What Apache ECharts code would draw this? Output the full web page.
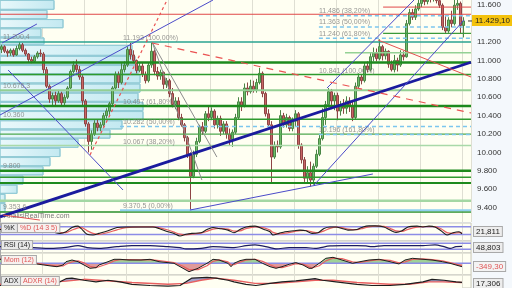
<!DOCTYPE html>
<html><head><meta charset="utf-8">
<script src="https://cdn.jsdelivr.net/npm/echarts@6/dist/echarts.min.js"></script>
<style>html,body{margin:0;padding:0;background:#f4f8fc;}#c{width:512px;height:288px;}</style>
</head><body><div id="c"></div><script>
// ---------- DATA ----------
// candles: [open, close, low, high]
const ohlc = [
[11120,11150,11080,11170],[11150,11100,11080,11165],[11100,11080,11040,11120],[11080,11110,11050,11130],
[11110,11060,11040,11130],[11060,11130,11050,11160],[11130,11170,11110,11200],[11170,11110,11090,11190],
[11110,11070,11050,11130],[11070,11010,10980,11080],[11010,10990,10970,11040],[10990,11040,10980,11060],
[11040,11080,11020,11100],[11080,11070,11040,11120],[11070,10900,10860,11090],[10900,10720,10700,10930],
[10720,10580,10540,10740],[10580,10620,10500,10650],[10620,10560,10510,10660],[10560,10640,10540,10680],
[10640,10540,10500,10660],[10540,10600,10500,10630],[10600,10700,10580,10720],[10700,10880,10690,10900],
[10880,10950,10860,10990],[10950,10900,10870,11010],[10900,10820,10790,10940],[10820,10560,10500,10840],
[10560,10310,10280,10580],[10310,10120,10000,10330],[10120,10200,10030,10240],[10200,10320,10180,10350],
[10320,10270,10230,10360],[10270,10300,10230,10330],[10300,10400,10280,10430],[10400,10450,10370,10480],
[10450,10530,10410,10550],[10530,10700,10500,10720],[10700,10850,10680,10880],[10850,10760,10700,10880],
[10760,10900,10740,10970],[10900,10950,10870,10990],[10950,11120,10930,11150],[11120,11060,11010,11190],
[11060,11000,10970,11110],[11000,10890,10860,11010],[10890,10940,10870,10970],[10940,10850,10820,10970],
[10850,10780,10750,10880],[10780,10950,10760,10980],[10950,11100,10920,11193],[11100,10880,10840,11120],
[10880,10830,10790,10930],[10830,10870,10790,10900],[10870,10740,10690,10880],[10740,10780,10700,10810],
[10780,10640,10600,10800],[10640,10520,10490,10700],[10520,10560,10470,10600],[10560,10380,10350,10600],
[10380,10300,10280,10420],[10300,10160,10120,10320],[10160,9980,9940,10180],[9980,9740,9370,10000],
[9740,9980,9720,10020],[9980,10120,9950,10160],[10120,10280,10100,10300],[10280,10230,10190,10330],
[10230,10420,10210,10450],[10420,10380,10340,10500],[10380,10450,10350,10490],[10450,10300,10260,10470],
[10300,10370,10260,10400],[10370,10230,10180,10400],[10230,10310,10200,10340],[10310,10200,10150,10340],
[10200,10140,10080,10260],[10140,10220,10060,10250],[10220,10380,10200,10420],[10380,10550,10360,10600],
[10550,10500,10450,10600],[10500,10700,10490,10750],[10700,10660,10620,10760],[10660,10720,10640,10790],
[10720,10680,10650,10780],[10680,10760,10650,10800],[10760,10860,10740,10920],[10860,10640,10600,10880],
[10640,10420,10390,10660],[10420,10300,10270,10470],[10300,9950,9670,10340],[9950,10080,9930,10120],
[10080,10060,10000,10130],[10060,10400,10040,10460],[10400,10300,10270,10430],[10300,10380,10270,10420],
[10380,10260,10230,10400],[10260,10340,10230,10380],[10340,10420,10280,10460],[10420,10080,10040,10440],
[10080,9920,9880,10100],[9920,9720,9680,9950],[9720,9780,9660,9850],[9780,9700,9630,9900],
[9700,9850,9650,9880],[9850,9980,9830,10030],[9980,10150,9960,10200],[10150,10380,10130,10480],
[10380,10520,10300,10560],[10520,10660,10490,10700],[10660,10560,10470,10690],[10560,10620,10460,10650],
[10620,10450,10350,10650],[10450,10520,10400,10560],[10520,10480,10420,10580],[10480,10560,10420,10610],
[10560,10500,10440,10600],[10500,10380,10340,10560],[10380,10720,10360,10760],[10720,10820,10690,10860],
[10820,10780,10740,10850],[10780,10940,10760,10980],[10940,10900,10870,10990],[10900,11040,10880,11080],
[11040,11080,10990,11140],[11080,11020,10990,11130],[11020,11150,11000,11230],[11150,11050,11000,11170],
[11050,11100,11010,11130],[11100,10960,10920,11110],[10960,10900,10880,11000],[10900,11000,10870,11060],
[11000,10950,10880,11030],[10950,11060,10930,11110],[11060,11040,11000,11100],[11040,11400,11030,11440],
[11400,11520,11380,11560],[11520,11470,11440,11560],[11470,11560,11440,11600],[11560,11620,11540,11680],
[11620,11660,11580,11700],[11660,11640,11600,11720],[11640,11700,11610,11740],[11700,11680,11630,11750],
[11680,11720,11640,11760],[11720,11650,11620,11750],[11650,11600,11570,11690],[11600,11360,11330,11620],
[11360,11320,11290,11480],[11320,11440,11300,11470],[11440,11400,11360,11540],[11400,11600,11380,11680],
[11600,11620,11550,11700],[11620,11380,11290,11640],[11380,11429.1,11250,11470]
];
const slotCount = 157;           // trading-day slots on the x axis
const lastPrice = 11429.10;

// volume-by-price profile: [priceLow, priceHigh, volume]
const volProfile = [
[11550,11657,54],[11450,11550,47],[11350,11450,63],[11250,11350,41],[11170,11250,44],
[11050,11170,132],[10950,11050,135],[10850,10950,138],[10750,10850,140],[10650,10750,140],
[10550,10650,138],[10450,10550,143],[10350,10450,143],[10250,10350,122],[10150,10250,110],
[10050,10150,78],[9950,10050,60],[9850,9950,50],[9750,9850,43],[9650,9750,23],
[9550,9650,17],[9450,9550,5],[9350,9450,5]
];

// horizontal support / resistance levels: price, first slot
const levelPrices = [11580, 11502, 11294, 11200.4, 11084, 10978, 10847, 10676.3, 10505, 10360, 10200, 10076, 9800, 9730, 9668, 9475, 9353.6];
const levelStarts = [127.7, 0, 127.7, 0, 115, 0, 0, 0, 0, 0, 0, 0, 0, 0, 0, 0, 0];

// fibonacci retracement levels (dashed)
const fibPrices = [11486, 11363, 11240, 10282, 10196, 9370.5];
const fibStarts = [106.3, 106.3, 106.3, 40, 106.3, 40];

// trend lines: [[slot, price], [slot, price]]
const trendLines = [
  [[0, 9300], [157, 10980]],
  [[0, 10407], [71, 11657]],
  [[0.7, 11190], [12.3, 11396]],
  [[2.7, 10896], [41, 9592]],
  [[109, 10700], [138, 11657]],
  [[104.7, 9646], [154.7, 11440]],
  [[63.3, 9374], [124.3, 9766]],
  [[50.7, 11200], [67.3, 9700]],
  [[50.7, 11200], [72.3, 9950]],
  [[50.7, 11190], [157, 10429]],
  [[30, 9972], [55.7, 11657]],
  [[126, 11222], [157, 10820]],
  [[1, 9320], [13.3, 9265]]
];

// labels on the price panel: [slot, price, text]
const fibLabels = [
  [41, 11193, '11.193 (100,00%)'], [41, 10497, '10.497 (61,80%)'], [41, 10282, '10.282 (50,00%)'],
  [41, 10067, '10.067 (38,20%)'], [41, 9370.5, '9.370,5 (0,00%)'],
  [106.3, 11486, '11.486 (38,20%)'], [106.3, 11363, '11.363 (50,00%)'], [106.3, 11240, '11.240 (61,80%)'],
  [106.3, 10841, '10.841 (100,00%)'], [106.3, 10196, '10.196 (161,80%)']
];
const levelLabels = [
  [1, 11200.4, '11.200,4'], [1, 10676.3, '10.676,3'], [1, 10360, '10.360'], [1, 9800, '9.800'], [1, 9353.6, '9.353,6']
];
const priceTicks = [9400, 9600, 9800, 10000, 10200, 10400, 10600, 10800, 11000, 11200, 11600];

// indicators: [slot, value]
const stochK = [[0,59],[3,59],[7,54],[11,54],[17,41],[20,28],[22,41],[24,74],[26,85],[27,67],[29,21],[31,15],[33,28],[36,49],[39,74],[42,79],[47,79],[51,79],[53,67],[56,41],[58,28],[60,8],[62,21],[64,28],[67,33],[69,59],[71,74],[73,67],[76,54],[78,33],[80,59],[82,79],[85,85],[88,59],[90,41],[91,15],[93,28],[95,41],[98,49],[100,54],[102,49],[104,28],[106,33],[108,67],[110,79],[112,79],[114,67],[116,54],[119,59],[121,79],[123,87],[125,87],[128,79],[130,54],[132,36],[134,49],[136,79],[139,85],[141,79],[143,85],[145,79],[147,49],[149,15],[151,33],[153,41],[154,24]];
const stochD = [[0,62],[3,60],[7,56],[11,54],[17,46],[20,34],[22,34],[24,55],[26,72],[27,76],[29,50],[31,28],[33,20],[36,35],[39,56],[42,74],[47,80],[51,79],[53,74],[56,55],[58,38],[60,22],[62,16],[64,22],[67,30],[69,44],[71,62],[73,68],[76,62],[78,46],[80,48],[82,66],[85,80],[88,72],[90,54],[91,36],[93,24],[95,30],[98,42],[100,50],[102,51],[104,40],[106,33],[108,48],[110,68],[112,78],[114,74],[116,62],[119,58],[121,68],[123,80],[125,86],[128,84],[130,68],[132,48],[134,44],[136,60],[139,78],[141,82],[143,82],[145,82],[147,64],[149,34],[151,28],[153,34],[154,32]];
const rsi = [[0,47],[5.6,47],[11,41],[17,36],[22,43],[26,54],[29,41],[33,36],[39,47],[44,54],[50,54],[56,47],[60,41],[62,32],[67,36],[71,47],[78,41],[82,54],[85,59],[90,41],[92,32],[96.4,41],[102,41],[105,36],[110,52],[114,54],[119,54],[122,52],[124,47],[128,54],[132,54],[136.4,54],[141,54],[145,59],[148,47],[150,36],[152,47],[154,49]];
const mom = [[0,412],[3,340],[7,165],[10,0],[13,-103],[17,-278],[19,-350],[21,-175],[22,165],[24,340],[26,165],[28,-175],[30,-515],[32,-450],[33,-175],[36,165],[38,412],[40,412],[43,340],[47,340],[50,412],[53,165],[58,0],[61,-515],[63,-865],[66,-515],[69,0],[71,412],[73,340],[76,0],[77,-350],[78,0],[80,275],[82,412],[85,412],[87.5,0],[90,-350],[92,-515],[94,-350],[96.4,-103],[98.6,70],[101,-175],[103,-515],[104,-515],[106.4,0],[108.6,515],[111,618],[114,340],[117.5,0],[120,165],[123,340],[126.4,412],[130,165],[133,-70],[135,340],[137.5,515],[141,412],[144,340],[147.5,165],[150,0],[152,-175],[154,-349]];
const momSignal = [[0,450],[3,400],[7,250],[10,80],[13,-40],[17,-200],[19,-300],[21,-280],[22,-100],[24,150],[26,250],[28,50],[30,-300],[32,-450],[33,-350],[36,-50],[38,250],[40,380],[43,380],[47,350],[50,380],[53,280],[58,80],[61,-300],[63,-650],[66,-650],[69,-250],[71,200],[73,350],[76,150],[77,-150],[78,-150],[80,120],[82,330],[85,420],[87.5,200],[90,-150],[92,-400],[94,-450],[96.4,-250],[98.6,-30],[101,-80],[103,-350],[104,-480],[106.4,-250],[108.6,250],[111,520],[114,480],[117.5,150],[120,80],[123,250],[126.4,380],[130,300],[133,50],[135,150],[137.5,400],[141,450],[144,380],[147.5,250],[150,80],[152,-80],[154,-250]];
const adx = [[0,7.7],[5.6,11.4],[11,14.3],[17,7.7],[20,19],[22,28.6],[24,30.5],[28,23.8],[32,19],[36,23.8],[40,19],[44,11.4],[50,7.7],[56,5.7],[60,7.7],[62,19],[64,30.5],[69,32.4],[72,30.5],[76,23.8],[78,19],[82,11.4],[85.3,7.7],[90,14.3],[94,19],[98.6,21.9],[103,26.7],[105,28.6],[107.5,23.8],[112,19],[119,11.4],[124,7.7],[130,7.7],[135,11.4],[141,19],[144,26.7],[148,23.8],[152,19],[154,17.3]];
const adxr = [[0,11.4],[11,14.3],[22,21],[28,26.7],[33,23.8],[44,17.1],[56,11.4],[62,14.3],[67,23.8],[72,30.5],[78,23.8],[85,14.3],[92,14.3],[98.6,19],[105,23.8],[111,23.8],[119,17.1],[130,11.4],[136.4,11.4],[143,19],[147.5,19],[154,17.1]];
const stochLevels = [80, 20];
const rsiLevels = [70, 30];
const lastValues = ['21,811', '48,803', '-349,30', '17,306'];

// ---------- CHART ----------
const chart = echarts.init(document.getElementById('c'));
const BG = '#fffff2';
const PW = 471;
const NARROW = '"Liberation Sans Narrow", "Liberation Sans", Arial, sans-serif';
const SANS = '"Liberation Sans", Arial, sans-serif';
const fmt = v => { const s = String(Math.round(v)); return s.slice(0, s.length - 3) + '.' + s.slice(-3); };

const gridBoxes = [[0, 222], [223, 18], [241, 12], [253, 22], [275, 14]];
const grids = gridBoxes.map((g, i) => ({left: 0, top: g[0], width: PW, height: g[1], show: true,
  backgroundColor: BG, borderColor: i ? '#c9c9c0' : 'transparent', borderWidth: i ? 1 : 0}));

const slotAxis = gi => ({type: 'value', gridIndex: gi, min: 0, max: slotCount, interval: 14,
  axisLine: {show: false}, axisTick: {show: false}, axisLabel: {show: false},
  splitLine: {show: true, lineStyle: {color: '#dfdfd3', width: 1}}});

const xAxes = [
  {type: 'category', gridIndex: 0, data: Array.from({length: slotCount}, (_, i) => String(i)), boundaryGap: true, show: false},
  slotAxis(0),
  {type: 'value', gridIndex: 0, min: 0, max: PW, show: false},
  slotAxis(1), slotAxis(2), slotAxis(3), slotAxis(4)
];
const sideAxis = (gi, min, max) => ({type: 'value', gridIndex: gi, position: 'right', min, max,
  axisLine: {show: true, lineStyle: {color: '#a8a8a8'}}, axisTick: {show: false}, axisLabel: {show: false}, splitLine: {show: false}});
const yAxes = [
  {type: 'value', gridIndex: 0, position: 'right', min: 9244, max: 11657,
   axisLine: {show: true, lineStyle: {color: '#a8a8a8'}},
   axisTick: {show: true, length: 3, customValues: priceTicks, lineStyle: {color: '#888'}},
   axisLabel: {show: true, customValues: priceTicks, margin: 6, formatter: fmt, color: '#333', fontSize: 8, fontFamily: NARROW},
   splitLine: {show: false}},
  sideAxis(1, -32, 110), sideAxis(2, 5, 85), sideAxis(3, -1205, 1061), sideAxis(4, 0, 40)
];

const series = [];
// volume profile
const vpFill = new echarts.graphic.LinearGradient(0, 0, 1, 0, [{offset: 0, color: '#e9f8fb'}, {offset: 1, color: '#c3e9f1'}]);
series.push({type: 'custom', xAxisIndex: 2, yAxisIndex: 0, data: volProfile, silent: true, z: 1,
  encode: {x: 2, y: [0, 1]},
  renderItem: (params, api) => {
    const a = api.coord([0, api.value(1)]);
    const b = api.coord([api.value(2), api.value(0)]);
    return {type: 'rect', shape: {x: a[0], y: a[1] + 0.5, width: b[0] - a[0], height: b[1] - a[1] - 1},
      style: {fill: vpFill, stroke: '#93cbd6', lineWidth: 1}};
  }});
// candles
series.push({type: 'candlestick', xAxisIndex: 0, yAxisIndex: 0, data: ohlc, barWidth: 2.4, z: 3, clip: true,
  itemStyle: {color: '#6fbe6a', color0: '#c96565', borderColor: '#4a8646', borderColor0: '#8e4444', borderWidth: 1}});

// level lines
const levelStyle = [
  ['#e04848', 1], ['#e04848', 1], ['#3a9a3a', 1.2], ['#2aa390', 1.6], ['#94d194', 1.5],
  ['#1d8a1d', 2.5], ['#2e9a2e', 1.5], ['#93cf93', 1.8], ['#1d8a1d', 2.5], ['#2f9a2f', 1.5],
  ['#4ea84e', 1.2], ['#a9d9a9', 1.6], ['#1d8a1d', 2.5], ['#2f9a2f', 1.5], ['#1d8a1d', 2.2],
  ['#a3d7a3', 2.5], ['#2a8f2a', 1.5]
];
levelPrices.forEach((p, i) => series.push({type: 'line', xAxisIndex: 1, yAxisIndex: 0, z: 4, silent: true,
  data: [[levelStarts[i], p], [slotCount, p]], symbol: 'none',
  lineStyle: {color: levelStyle[i][0], width: levelStyle[i][1]}}));
fibPrices.forEach((p, i) => series.push({type: 'line', xAxisIndex: 1, yAxisIndex: 0, z: 4, silent: true,
  data: [[fibStarts[i], p], [slotCount, p]], symbol: 'none',
  lineStyle: i === 5 ? {color: '#8fd0f0', width: 2} : {color: '#7cc6ee', width: 1.5, type: [4, 3]}}));
// trend lines
const trendStyle = [
  {color: '#1b1b9e', width: 2.8}, {color: '#4b4bc9', width: 1}, {color: '#4b4bc9', width: 1}, {color: '#4b4bc9', width: 1},
  {color: '#4b4bc9', width: 1}, {color: '#4b4bc9', width: 1}, {color: '#4b4bc9', width: 1},
  {color: '#8c8c8c', width: 1}, {color: '#8c8c8c', width: 1},
  {color: '#ea5252', width: 1.2, type: [7, 6]}, {color: '#ea5252', width: 1.2, type: [3, 3]},
  {color: '#e45050', width: 1}, {color: '#e45050', width: 1}
];
trendLines.forEach((seg, i) => series.push({type: 'line', xAxisIndex: 1, yAxisIndex: 0, z: 5, silent: true,
  data: seg, symbol: 'none', lineStyle: trendStyle[i]}));
// labels
const labelSeries = (data) => ({type: 'scatter', xAxisIndex: 1, yAxisIndex: 0, z: 6, silent: true, symbolSize: 0, data,
  label: {show: true, position: 'top', distance: 1, align: 'left', formatter: p => p.data[2],
    color: '#7c7c7c', fontSize: 7, fontFamily: NARROW}});
series.push(labelSeries(fibLabels));
series.push(labelSeries(levelLabels));

// filled area between a series and the zero line, drawn through the axes
const areaFill = (xi, yi, points, color) => ({type: 'custom', xAxisIndex: xi, yAxisIndex: yi, silent: true, z: 2,
  data: [[points[0][0], 0]],
  renderItem: (params, api) => {
    const pts = points.map(p => api.coord(p));
    pts.unshift(api.coord([points[0][0], 0]));
    pts.push(api.coord([points[points.length - 1][0], 0]));
    return {type: 'polygon', shape: {points: pts}, style: {fill: color}};
  }});

// stochastic
const refLine = (xi, yi, v) => ({type: 'line', xAxisIndex: xi, yAxisIndex: yi, silent: true, symbol: 'none', z: 3,
  data: [[0, v], [slotCount, v]], lineStyle: {color: '#8c8ce6', width: 1.5}});
stochLevels.forEach(v => series.push(refLine(3, 1, v)));
series.push({type: 'line', xAxisIndex: 3, yAxisIndex: 1, data: stochD, symbol: 'none', smooth: 0.3, z: 4, lineStyle: {color: '#e86060', width: 1.2}});
series.push({type: 'line', xAxisIndex: 3, yAxisIndex: 1, data: stochK, symbol: 'none', smooth: 0.3, z: 4, lineStyle: {color: '#1e1e1e', width: 1.1}});
// RSI
rsiLevels.forEach(v => series.push(refLine(4, 2, v)));
series.push({type: 'line', xAxisIndex: 4, yAxisIndex: 2, data: rsi, symbol: 'none', smooth: 0.3, z: 4, lineStyle: {color: '#1a1a60', width: 1.2}});
// Momentum: the area above zero is shaded green, the area below zero red
const momAbove = mom.map(d => [d[0], Math.max(d[1], 0)]);
const momBelow = mom.map(d => [d[0], Math.min(d[1], 0)]);
series.push(areaFill(5, 3, momAbove, '#9fd197'));
series.push(areaFill(5, 3, momBelow, '#e09a9a'));
series.push(refLine(5, 3, 0));
series.push({type: 'line', xAxisIndex: 5, yAxisIndex: 3, data: momSignal, symbol: 'none', z: 4, lineStyle: {color: '#e86060', width: 1.2}});
series.push({type: 'line', xAxisIndex: 5, yAxisIndex: 3, data: mom, symbol: 'none', z: 4, lineStyle: {color: '#1e1e1e', width: 1}});
// ADX: shaded where ADX is above ADXR
series.push(areaFill(6, 4, adx, '#a3a3cc'));
series.push(areaFill(6, 4, adxr, BG));
series.push({type: 'line', xAxisIndex: 6, yAxisIndex: 4, data: adxr, symbol: 'none', z: 4, lineStyle: {color: '#e86060', width: 1.4}});
series.push({type: 'line', xAxisIndex: 6, yAxisIndex: 4, data: adx, symbol: 'none', z: 4, lineStyle: {color: '#1e1e1e', width: 1.2}});

const box = (x, y, text, color, bg, size) => ({type: 'text', x, y, z: 50, silent: true,
  style: {text, fill: color, font: (size || 8) + 'px ' + SANS, backgroundColor: bg, borderColor: '#a9a9a9', borderWidth: 1, padding: [1, 2, 0, 2]}});

chart.setOption({
  animation: false,
  backgroundColor: '#f4f8fc',
  grid: grids, xAxis: xAxes, yAxis: yAxes, series
});

// y pixel of the last close
const yLast = chart.convertToPixel({yAxisIndex: 0}, lastPrice);
const lastLabel = lastPrice.toFixed(2).replace('.', ',');
const lastText = fmt(Math.floor(lastPrice)) + lastLabel.slice(lastLabel.indexOf(','));
chart.setOption({graphic: [
  {type: 'text', x: 4, y: 213, silent: true, style: {text: 'AnalisiRealTime.com', fill: '#7a7a7a', font: '7px ' + SANS}},
  box(2, 224, '%K', '#222', '#e9e9e9', 7), box(18, 224, '%D (14 3 5)', '#e05555', '#f7f1ee', 7),
  box(2, 241, 'RSI (14)', '#222', '#e9e9e9', 7),
  box(2, 256, 'Mom (12)', '#e05555', '#f7f1ee', 7),
  box(2, 277, 'ADX', '#222', '#e9e9e9', 7), box(21, 277, 'ADXR (14)', '#e05555', '#f7f1ee', 7),
  box(474, 227, lastValues[0], '#222', '#ededed'),
  box(474, 243, lastValues[1], '#222', '#ededed'),
  box(474, 262, lastValues[2], '#e05555', '#f3f3f3'),
  box(474, 279, lastValues[3], '#222', '#ededed'),
  {type: 'rect', x: 468, y: yLast - 0.5, shape: {width: 4, height: 1}, style: {fill: '#333'}, z: 50},
  {type: 'text', x: 472, y: yLast - 6, z: 50, silent: true,
   style: {text: lastText, fill: '#222', font: '8px ' + SANS, backgroundColor: '#f4c20d', padding: [2, 3, 1, 3]}}
]});
</script></body></html>
